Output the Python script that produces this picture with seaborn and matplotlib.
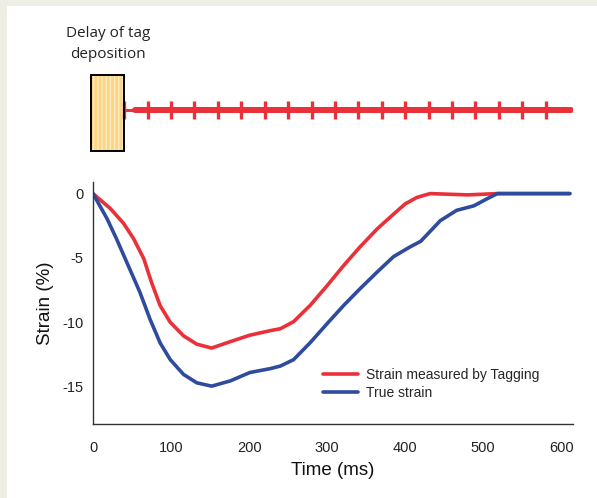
import numpy as np
import pandas as pd
import matplotlib
matplotlib.use("Agg")
import matplotlib.pyplot as plt
from matplotlib.patches import Rectangle
import seaborn as sns

# ---- data ----
time_measured = [0, 22, 39, 52, 65, 75, 86, 99, 116, 133, 152, 176, 201, 227, 240, 257, 278, 300, 321, 342, 364, 385, 400, 415, 432, 455, 480, 518, 611]
strain_measured = [0, -1.15, -2.3, -3.5, -5.05, -6.9, -8.7, -10.0, -11.05, -11.7, -12.0, -11.5, -11.0, -10.65, -10.5, -9.95, -8.7, -7.15, -5.6, -4.15, -2.75, -1.6, -0.8, -0.3, 0, -0.05, -0.1, 0, 0]
time_true = [0, 18, 30, 47, 60, 73, 86, 99, 116, 133, 152, 176, 201, 227, 240, 257, 278, 300, 321, 342, 364, 385, 406, 420, 445, 466, 488, 505, 518, 611]
strain_true = [0, -1.95, -3.5, -5.85, -7.65, -9.75, -11.6, -12.9, -14.05, -14.7, -14.96, -14.55, -13.9, -13.6, -13.4, -12.9, -11.6, -10.1, -8.7, -7.4, -6.1, -4.9, -4.15, -3.7, -2.1, -1.3, -0.95, -0.4, 0, 0]
series_names = ["Strain measured by Tagging", "True strain"]
x_ticks = [0, 100, 200, 300, 400, 500, 600]
y_ticks = [0, -5, -10, -15]
tag_delay = [-3, 40]
tag_line = [40, 612]
tag_marks = [40, 70, 100, 130, 160, 190, 220, 250, 280, 310, 340, 370, 400, 430, 460, 490, 520, 550, 580]

df = pd.DataFrame({
    "Time": time_measured + time_true,
    "Strain": strain_measured + strain_true,
    "Series": [series_names[0]] * len(time_measured) + [series_names[1]] * len(time_true),
})

sns.set_style("white")
plt.rcParams["font.family"] = ["Liberation Sans", "DejaVu Sans"]

W, H = 597, 498
fig = plt.figure(figsize=(W / 100, H / 100), dpi=100, facecolor="#efeee4")
bg = fig.add_axes([7 / W, 0, 1 - 7 / W, (H - 6) / H], zorder=-10)
bg.set_facecolor("white")
bg.set_xticks([])
bg.set_yticks([])
for s in bg.spines.values():
    s.set_visible(False)

red = "#ea3038"
blue = "#2f4b9e"

# main axes: x px 93..573, y px 182..424
ax = fig.add_axes([93 / W, 1 - 424 / H, 480 / W, 242 / H])
ax.set_facecolor("none")
sns.lineplot(data=df, x="Time", y="Strain", hue="Series", palette=[red, blue],
             linewidth=2.6, ax=ax, sort=False, estimator=None)
for ln in ax.get_lines():
    ln.set_solid_joinstyle("round")
    ln.set_solid_capstyle("round")
ax.set_xlim(0, 615)
ax.set_ylim(-17.9, 0.9)
ax.set_xticks(x_ticks)
ax.set_yticks(y_ticks)
ax.set_yticklabels([str(v) for v in y_ticks])
ax.tick_params(axis="x", direction="out", length=4, width=1, color="#333333",
               labelsize=10.5, pad=8, labelcolor="#222222")
ax.tick_params(axis="y", length=0, labelsize=10.5, pad=7, labelcolor="#222222")
for s in ["top", "right"]:
    ax.spines[s].set_visible(False)
for s in ["left", "bottom"]:
    ax.spines[s].set_color("#333333")
    ax.spines[s].set_linewidth(1.0)
ax.set_xlabel("Time (ms)", fontsize=13.5, labelpad=5, color="#111111")
ax.set_ylabel("Strain (%)", fontsize=13.5, labelpad=6, color="#111111")
leg = ax.legend(frameon=False, loc="upper left", bbox_to_anchor=(0.48, 0.232),
                borderpad=0, borderaxespad=0, handlelength=2.5, handletextpad=0.6,
                labelspacing=0.32, fontsize=10)
for line in leg.get_lines():
    line.set_linewidth(2.6)

# top schematic axes: y px 70..156
ax2 = fig.add_axes([93 / W, 1 - 156 / H, 480 / W, 86 / H])
ax2.set_xlim(0, 615)
ax2.set_ylim(0, 1)
ax2.axis("off")
box_fill = Rectangle((tag_delay[0], 0.058), tag_delay[1] - tag_delay[0], 0.884,
                     facecolor="#fcd582", edgecolor="#fdebc4", hatch="||||", linewidth=0,
                     clip_on=False, zorder=2)
box_edge = Rectangle((tag_delay[0], 0.058), tag_delay[1] - tag_delay[0], 0.884,
                     facecolor="none", edgecolor="black", linewidth=1.4, clip_on=False, zorder=3)
ax2.add_patch(box_fill)
ax2.add_patch(box_edge)
ax2.plot([tag_line[0], 54], [0.535, 0.535], color=red, linewidth=2.2, zorder=2)
ax2.plot([54, tag_line[1]], [0.535, 0.535], color=red, linewidth=4.3,
         solid_capstyle="round", zorder=2)
ax2.plot(tag_marks, [0.535] * len(tag_marks), linestyle="none", marker="|",
         markersize=13.5, markeredgewidth=2.4, color=red, zorder=2)

fig.text(108 / W, 1 - 44 / H, "Delay of tag\ndeposition", ha="center", va="center",
         fontsize=11, family=["Open Sans", "DejaVu Sans"], color="#222222",
         linespacing=1.5)

fig.savefig("out.png", dpi=100, facecolor=fig.get_facecolor())
